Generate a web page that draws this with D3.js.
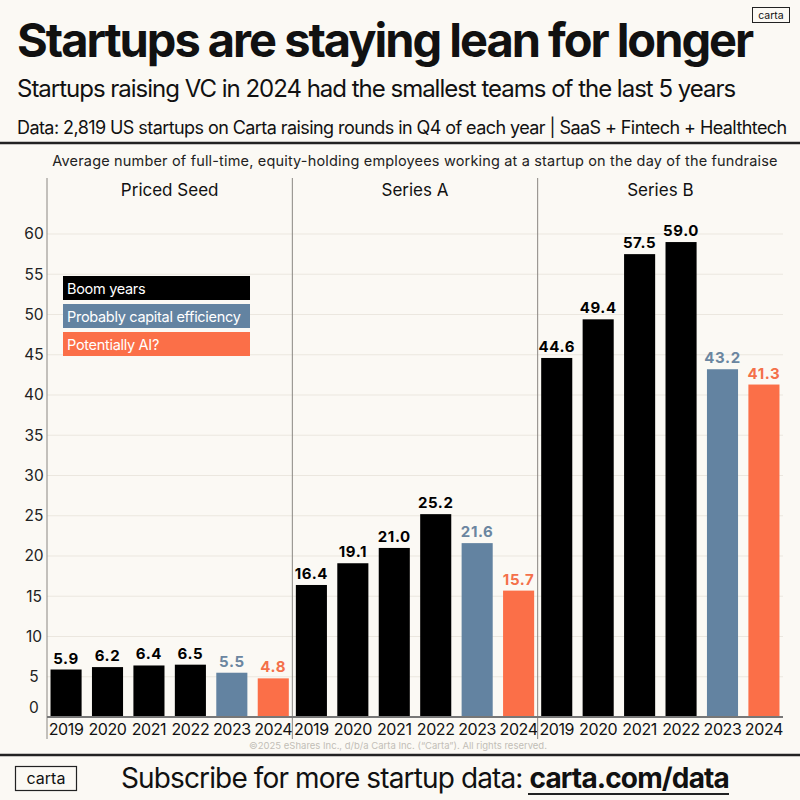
<!DOCTYPE html>
<html>
<head>
<meta charset="utf-8">
<script src="https://cdn.jsdelivr.net/npm/d3@7"></script>
<style>
  html, body { margin: 0; padding: 0; background: #fbf9f4; }
  svg { display: block; }
</style>
</head>
<body>
<div id="chart"></div>
<script>
// data
const stages = ["Priced Seed", "Series A", "Series B"];
const years = ["2019", "2020", "2021", "2022", "2023", "2024"];
const pricedSeed = [5.9, 6.2, 6.4, 6.5, 5.5, 4.8];
const seriesA = [16.4, 19.1, 21.0, 25.2, 21.6, 15.7];
const seriesB = [44.6, 49.4, 57.5, 59.0, 43.2, 41.3];
const yTicks = [0, 5, 10, 15, 20, 25, 30, 35, 40, 45, 50, 55, 60];
const legendLabels = ["Boom years", "Probably capital efficiency", "Potentially AI?"];
const yearGroup = [0, 0, 0, 0, 1, 2];

const W = 800, H = 800;
const font = "Inter, 'Noto Sans', sans-serif";
const colors = ["#000000", "#6383a1", "#fb6f48"];
const labelColors = ["#000000", "#6b86a0", "#f4704a"];

const svg = d3.select("#chart").append("svg")
    .attr("width", W)
    .attr("height", H)
    .attr("font-family", font);

svg.append("rect").attr("width", W).attr("height", H).attr("fill", "#fbf9f4");

// squeeze or stretch tracking so text spans a given width
function fit(sel, target) {
    sel.each(function () {
        let w = this.getComputedTextLength();
        let n = this.textContent.length;
        d3.select(this).attr("letter-spacing", ((target - w) / n).toFixed(2));
    });
    return sel;
}

// header
svg.append("text")
    .attr("x", 17).attr("y", 57)
    .attr("font-size", 47).attr("font-weight", 700).attr("fill", "#111")
    .text("Startups are staying lean for longer")
    .call(fit, 735);

svg.append("text")
    .attr("x", 17).attr("y", 97)
    .attr("font-size", 24).attr("fill", "#111")
    .text("Startups raising VC in 2024 had the smallest teams of the last 5 years")
    .call(fit, 718);

svg.append("text")
    .attr("x", 17).attr("y", 134)
    .attr("font-size", 18).attr("fill", "#111")
    .text("Data: 2,819 US startups on Carta raising rounds in Q4 of each year | SaaS + Fintech + Healthtech")
    .call(fit, 770);

// small logo top right
svg.append("rect")
    .attr("x", 752.5).attr("y", 7.5).attr("width", 37).attr("height", 15)
    .attr("fill", "none").attr("stroke", "#222").attr("stroke-width", 1);
svg.append("text")
    .attr("x", 771).attr("y", 19)
    .attr("text-anchor", "middle").attr("font-size", 10.5).attr("fill", "#111")
    .text("carta");

svg.append("line")
    .attr("x1", 0).attr("x2", W).attr("y1", 143).attr("y2", 143)
    .attr("stroke", "#222").attr("stroke-width", 2.5);

svg.append("text")
    .attr("x", 415).attr("y", 166)
    .attr("text-anchor", "middle").attr("font-size", 14.5).attr("fill", "#222")
    .text("Average number of full-time, equity-holding employees working at a startup on the day of the fundraise")
    .call(fit, 725);

// scales
const y = d3.scaleLinear().domain([0, 60]).range([717, 234]);
const panel = d3.scaleBand().domain(stages).range([47, 783]);
const x = d3.scaleBand().domain(years).range([0, panel.bandwidth()])
    .paddingInner(0.25).paddingOuter(0.085);

const seriesData = [pricedSeed, seriesA, seriesB];

// grid
svg.append("g")
    .selectAll("line")
    .data(yTicks.filter(d => d > 0))
    .join("line")
    .attr("x1", 47).attr("x2", 783)
    .attr("y1", d => y(d)).attr("y2", d => y(d))
    .attr("stroke", "#ebe7df").attr("stroke-width", 1);

// y labels
svg.append("g")
    .selectAll("text")
    .data(yTicks)
    .join("text")
    .attr("x", 34)
    .attr("y", d => d === 0 ? y(d) - 9 : y(d))
    .attr("dy", "0.35em")
    .attr("text-anchor", "middle")
    .attr("font-size", 15.5).attr("fill", "#222")
    .text(d => d);

// panels
const panels = svg.selectAll("g.panel")
    .data(stages)
    .join("g")
    .attr("class", "panel")
    .attr("transform", d => "translate(" + panel(d) + ",0)");

panels.append("line")
    .attr("x1", 0).attr("x2", 0).attr("y1", 178).attr("y2", 739)
    .attr("stroke", "#8a8782").attr("stroke-width", 1);

panels.append("text")
    .attr("x", panel.bandwidth() / 2).attr("y", 196)
    .attr("text-anchor", "middle").attr("font-size", 17).attr("fill", "#111")
    .text(d => d);

panels.each(function (stage, si) {
    let g = d3.select(this);
    let vals = seriesData[si].map((v, i) => ({year: years[i], value: v, grp: yearGroup[i]}));

    g.selectAll("rect.bar")
        .data(vals)
        .join("rect")
        .attr("class", "bar")
        .attr("x", d => x(d.year))
        .attr("width", x.bandwidth())
        .attr("y", d => y(d.value))
        .attr("height", d => y(0) - y(d.value))
        .attr("fill", d => colors[d.grp]);

    g.selectAll("text.val")
        .data(vals)
        .join("text")
        .attr("class", "val")
        .attr("x", d => x(d.year) + x.bandwidth() / 2)
        .attr("y", d => y(d.value) - 6)
        .attr("text-anchor", "middle")
        .attr("font-size", 15).attr("font-weight", 700)
        .attr("letter-spacing", 0.6)
        .attr("fill", d => labelColors[d.grp])
        .text(d => d.value.toFixed(1));

    g.selectAll("text.year")
        .data(years)
        .join("text")
        .attr("class", "year")
        .attr("x", d => x(d) + x.bandwidth() / 2)
        .attr("y", 735)
        .attr("text-anchor", "middle")
        .attr("font-size", 16).attr("letter-spacing", -0.4).attr("fill", "#111")
        .text(d => d);
});

// x axis baseline
svg.append("line")
    .attr("x1", 47).attr("x2", 783).attr("y1", y(0)).attr("y2", y(0))
    .attr("stroke", "#777").attr("stroke-width", 2);

// legend
const legend = svg.append("g").attr("transform", "translate(63,276)");
legend.selectAll("rect")
    .data(legendLabels)
    .join("rect")
    .attr("x", 0).attr("y", (d, i) => i * 28)
    .attr("width", 187).attr("height", 24)
    .attr("fill", (d, i) => colors[i]);
legend.selectAll("text")
    .data(legendLabels)
    .join("text")
    .attr("x", 4).attr("y", (d, i) => i * 28 + 17.5)
    .attr("font-size", 14.5).attr("letter-spacing", -0.3).attr("fill", "#fff")
    .text(d => d);

// footer
svg.append("text")
    .attr("x", 398).attr("y", 749)
    .attr("text-anchor", "middle").attr("font-size", 9.5).attr("fill", "#c2beb7")
    .text("\u00a92025 eShares Inc., d/b/a Carta Inc. (\u201cCarta\u201d). All rights reserved.");

svg.append("line")
    .attr("x1", 0).attr("x2", W).attr("y1", 755).attr("y2", 755)
    .attr("stroke", "#222").attr("stroke-width", 2.5);

svg.append("rect")
    .attr("x", 15.5).attr("y", 766.5).attr("width", 61).attr("height", 24)
    .attr("fill", "none").attr("stroke", "#222").attr("stroke-width", 1.2);
svg.append("text")
    .attr("x", 46).attr("y", 784)
    .attr("text-anchor", "middle").attr("font-size", 16).attr("fill", "#111")
    .text("carta");

const sub = svg.append("text")
    .attr("x", 121).attr("y", 788)
    .attr("font-size", 28).attr("fill", "#111");
sub.append("tspan").text("Subscribe for more startup data: ");
sub.append("tspan").attr("font-weight", 700).text("carta.com/data");
sub.call(fit, 608);

svg.append("line")
    .attr("x1", 528).attr("x2", 729).attr("y1", 794).attr("y2", 794)
    .attr("stroke", "#222").attr("stroke-width", 2);
</script>
</body>
</html>
